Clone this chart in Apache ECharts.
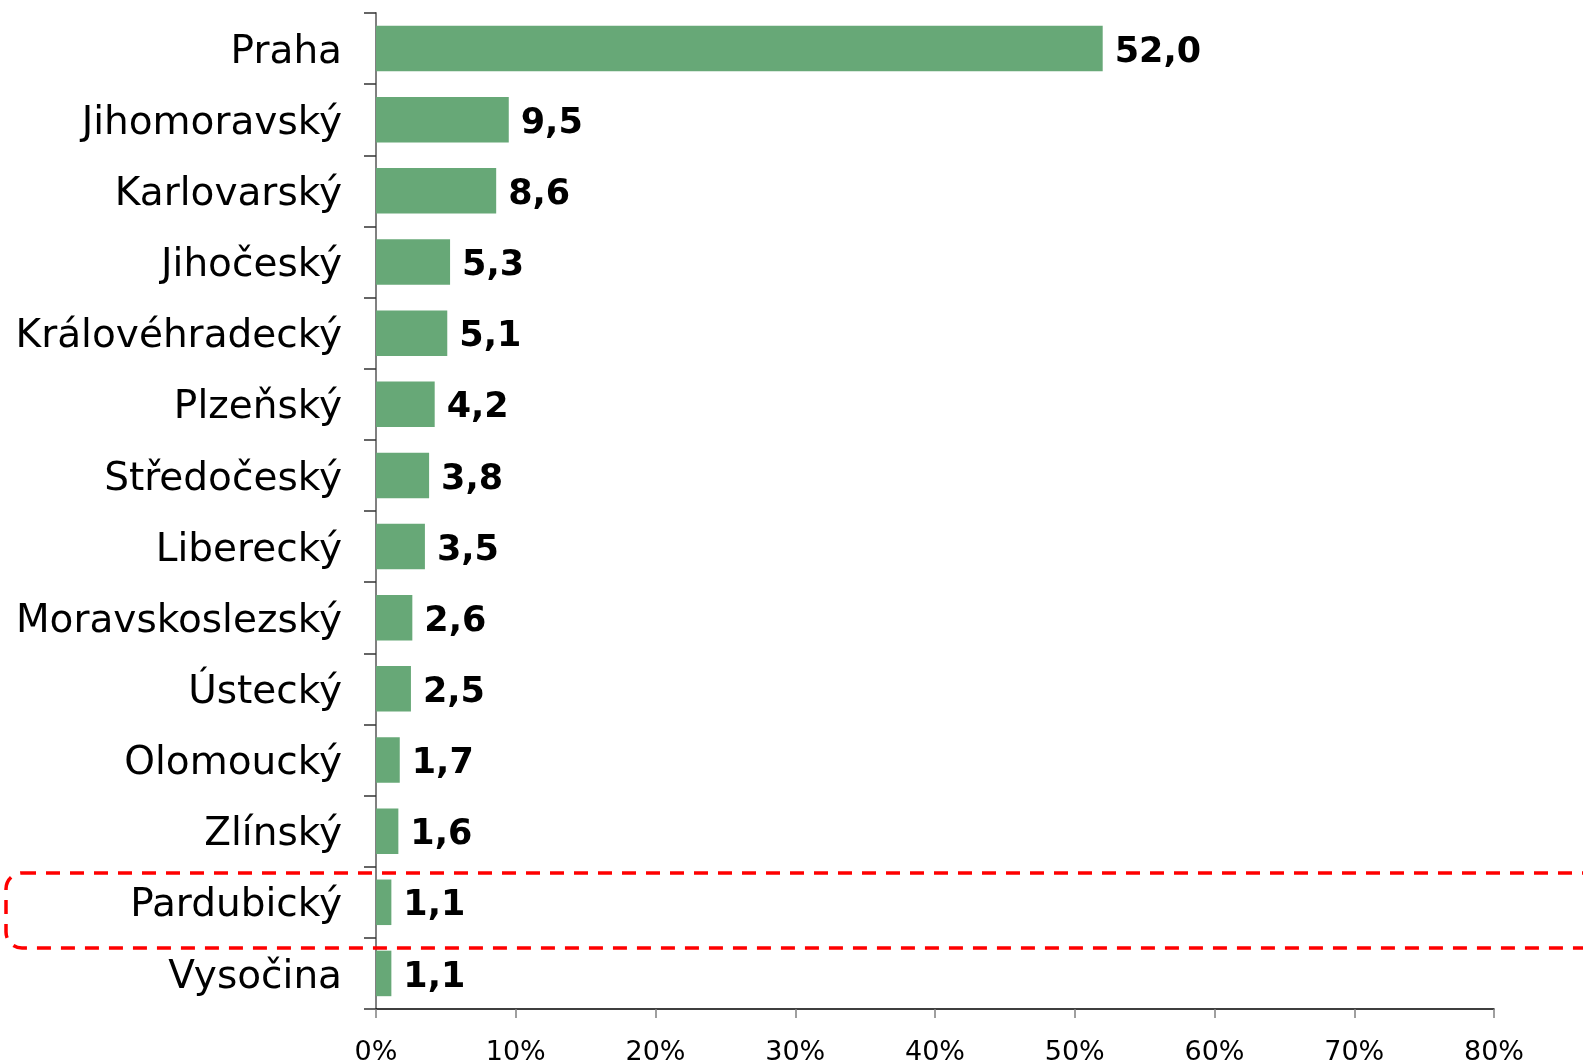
<!DOCTYPE html>
<html>
<head>
<meta charset="utf-8">
<script src="https://cdn.jsdelivr.net/npm/echarts@6/dist/echarts.min.js"></script>
<style>
  html, body { margin: 0; padding: 0; background: #fff; }
  #chart { width: 1583px; height: 1063px; }
</style>
</head>
<body>
<div id="chart"></div>
<script>
// kraje a hodnoty (%)
var regions = ['Praha', 'Jihomoravský', 'Karlovarský', 'Jihočeský', 'Královéhradecký', 'Plzeňský',
  'Středočeský', 'Liberecký', 'Moravskoslezský', 'Ústecký', 'Olomoucký', 'Zlínský', 'Pardubický', 'Vysočina']
var values = [52.0, 9.5, 8.6, 5.3, 5.1, 4.2, 3.8, 3.5, 2.6, 2.5, 1.7, 1.6, 1.1, 1.1]
var xTicks = [0, 10, 20, 30, 40, 50, 60, 70, 80]

var chart = echarts.init(document.getElementById('chart'))
var option = {
  animation: false,
  grid: { left: 376, right: 89, top: 13, bottom: 54, outerBoundsMode: 'none' },
  xAxis: {
    type: 'value',
    min: xTicks[0],
    max: xTicks[xTicks.length - 1],
    interval: 10,
    splitLine: { show: false },
    axisLine: { show: true, lineStyle: { color: '#000', width: 1.5 } },
    axisTick: { show: true, length: 9, lineStyle: { color: '#808080', width: 1.5 } },
    axisLabel: {
      formatter: '{value}%',
      color: '#000',
      fontFamily: 'DejaVu Sans',
      fontSize: 27,
      margin: 30
    }
  },
  yAxis: {
    type: 'category',
    data: regions,
    inverse: true,
    axisLine: { show: true, lineStyle: { color: '#808080', width: 2 } },
    axisTick: { show: true, length: 12, lineStyle: { color: '#333', width: 1.5 } },
    axisLabel: {
      color: '#000',
      fontFamily: 'DejaVu Sans',
      fontSize: 39,
      margin: 34,
      verticalAlign: 'top',
      lineHeight: 8
    }
  },
  series: [{
    type: 'bar',
    data: values,
    barCategoryGap: '36%',
    itemStyle: { color: '#67a877' },
    label: {
      show: true,
      position: 'right',
      distance: 12,
      offset: [0, 4],
      color: '#000',
      fontFamily: 'DejaVu Sans',
      fontWeight: 'bold',
      fontSize: 35,
      formatter: function (p) { return p.value.toFixed(1).replace('.', ',') }
    }
  }],
  graphic: [{
    type: 'rect',
    shape: { x: 6, y: 873, width: 1620, height: 75, r: 16 },
    style: { fill: 'none', stroke: '#ff0000', lineWidth: 3.5, lineDash: [14, 10] },
    z: 100
  }]
}
chart.setOption(option)
</script>
</body>
</html>
